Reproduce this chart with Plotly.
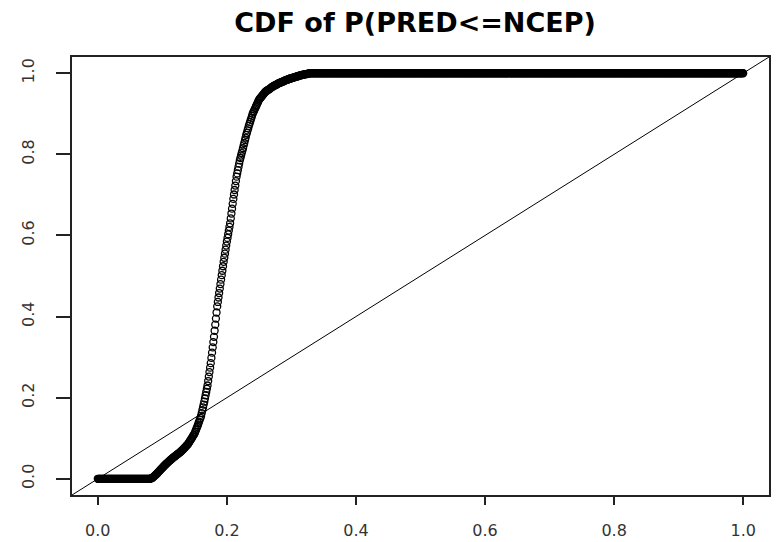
import plotly.graph_objects as go

# CDF evaluated on a regular grid of P values (0.000, 0.001, ..., 1.000)
x_start = 0.0
x_step = 0.001

# P values 0.000 - 0.079: CDF is zero
cdf_before_rise = [0.0] * 80

# P values 0.080 - 0.330
cdf_rise = [
    0.000, 0.000, 0.001, 0.001, 0.002, 0.003, 0.004, 0.006, 0.007, 0.009,
    0.010, 0.012, 0.013, 0.015, 0.017, 0.019, 0.020, 0.022, 0.024, 0.025,
    0.027, 0.029, 0.030, 0.032, 0.034, 0.035, 0.037, 0.038, 0.040, 0.041,
    0.043, 0.044, 0.046, 0.047, 0.048, 0.050, 0.051, 0.052, 0.054, 0.055,
    0.056, 0.057, 0.059, 0.060, 0.061, 0.062, 0.064, 0.065, 0.066, 0.068,
    0.069, 0.071, 0.072, 0.074, 0.076, 0.077, 0.079, 0.081, 0.083, 0.084,
    0.086, 0.089, 0.091, 0.094, 0.096, 0.099, 0.101, 0.104, 0.107, 0.109,
    0.112, 0.116, 0.120, 0.124, 0.128, 0.132, 0.137, 0.141, 0.146, 0.150,
    0.155, 0.162, 0.169, 0.176, 0.183, 0.190, 0.198, 0.206, 0.214, 0.222,
    0.230, 0.241, 0.252, 0.263, 0.274, 0.285, 0.298, 0.311, 0.324, 0.337,
    0.350, 0.365, 0.380, 0.395, 0.410, 0.425, 0.436, 0.447, 0.458, 0.469,
    0.480, 0.491, 0.502, 0.513, 0.524, 0.535, 0.545, 0.555, 0.565, 0.575,
    0.585, 0.594, 0.603, 0.612, 0.621, 0.630, 0.642, 0.654, 0.666, 0.678,
    0.690, 0.701, 0.712, 0.723, 0.734, 0.745, 0.753, 0.761, 0.769, 0.777,
    0.785, 0.791, 0.797, 0.803, 0.809, 0.815, 0.822, 0.828, 0.835, 0.841,
    0.848, 0.853, 0.859, 0.864, 0.870, 0.875, 0.880, 0.885, 0.890, 0.895,
    0.900, 0.904, 0.907, 0.911, 0.914, 0.918, 0.921, 0.925, 0.928, 0.932,
    0.935, 0.937, 0.939, 0.941, 0.943, 0.945, 0.947, 0.949, 0.951, 0.953,
    0.955, 0.956, 0.957, 0.958, 0.959, 0.960, 0.961, 0.962, 0.964, 0.965,
    0.966, 0.967, 0.968, 0.969, 0.970, 0.971, 0.971, 0.972, 0.973, 0.974,
    0.975, 0.976, 0.976, 0.977, 0.978, 0.978, 0.979, 0.980, 0.980, 0.981,
    0.982, 0.983, 0.983, 0.984, 0.984, 0.985, 0.986, 0.986, 0.987, 0.987,
    0.988, 0.988, 0.989, 0.989, 0.990, 0.990, 0.991, 0.991, 0.992, 0.992,
    0.993, 0.993, 0.994, 0.994, 0.995, 0.995, 0.996, 0.996, 0.996, 0.997,
    0.997, 0.997, 0.998, 0.998, 0.998, 0.999, 0.999, 0.999, 1.000, 1.000,
    1.000,
]

# P values 0.331 - 1.000: CDF is one
cdf_after_rise = [1.0] * 670

cdf_values = cdf_before_rise + cdf_rise + cdf_after_rise

tick_values = [0.0, 0.2, 0.4, 0.6, 0.8, 1.0]
tick_labels = ["0.0", "0.2", "0.4", "0.6", "0.8", "1.0"]
axis_range = [-0.04, 1.04]

fig = go.Figure()

fig.add_trace(go.Scatter(
    x0=x_start,
    dx=x_step,
    y=cdf_values,
    mode='markers',
    marker=dict(symbol='circle-open', size=7, color='black',
                line=dict(width=1.3, color='black')),
    showlegend=False,
))

# y = x reference line across the whole plotting region
fig.add_shape(type='line', xref='paper', yref='paper', x0=0, y0=0, x1=1, y1=1,
              line=dict(color='black', width=1))

tick_font = dict(family='DejaVu Sans', size=16, color='#333333')

# the page body adds an 8px offset, so the figure is 8px smaller than the window
fig.update_layout(
    width=771,
    height=534,
    margin=dict(l=64, r=10, t=49, b=47),
    paper_bgcolor='white',
    plot_bgcolor='white',
    title=dict(text='<b>CDF of P(PRED<=NCEP)</b>',
               font=dict(family='DejaVu Sans', size=27, color='black'),
               x=0.528, xanchor='center', y=0.972, yanchor='middle'),
)

fig.update_xaxes(
    range=axis_range, tickvals=tick_values, ticktext=tick_labels,
    showgrid=False, zeroline=False, automargin=False,
    showline=True, mirror=True, linecolor='#222222', linewidth=1.5,
    ticks='outside', ticklen=8, tickwidth=1.5, tickcolor='#222222',
    tickfont=tick_font, ticklabelstandoff=12,
)
fig.update_yaxes(
    range=axis_range, tickvals=tick_values, ticktext=tick_labels,
    showgrid=False, zeroline=False, automargin=False,
    showline=True, mirror=True, linecolor='#222222', linewidth=1.5,
    ticks='outside', ticklen=14, tickwidth=1.5, tickcolor='#222222',
    tickfont=tick_font, tickangle=-90, ticklabelstandoff=16,
)

fig.write_html("out.html")
